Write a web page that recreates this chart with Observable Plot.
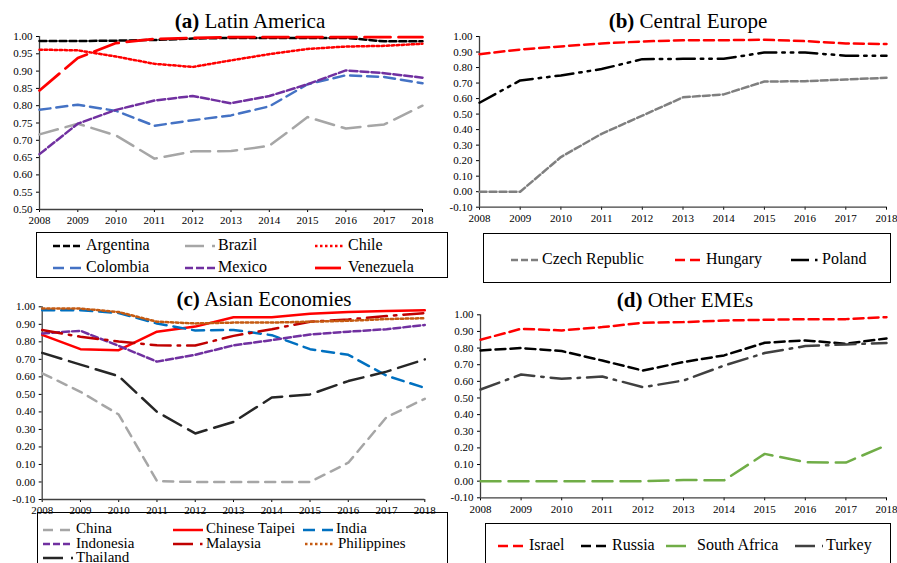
<!DOCTYPE html>
<html><head><meta charset="utf-8">
<script src="https://cdn.jsdelivr.net/npm/d3@7"></script>
<script src="https://cdn.jsdelivr.net/npm/@observablehq/plot@0.6"></script>
<style>
body{margin:0;background:#fff;}
#root{position:relative;width:897px;height:563px;overflow:hidden;font-family:'Liberation Serif','Times New Roman',Times,'Nimbus Roman','DejaVu Serif',serif;color:#000;}
#root svg text{font-family:'Liberation Serif','Times New Roman',Times,'Nimbus Roman','DejaVu Serif',serif;}
.plotbox{position:absolute;}
.title{position:absolute;font-size:21px;line-height:1;white-space:nowrap;transform:translateX(-50%);}
.legend{position:absolute;border:1px solid #000;box-sizing:border-box;}
.ltext{position:absolute;white-space:nowrap;}
.sw{position:absolute;overflow:visible;}
</style></head><body><div id="root"></div>
<script>
// ---------- data ----------
const years = [2008, 2009, 2010, 2011, 2012, 2013, 2014, 2015, 2016, 2017, 2018];

// (a) Latin America
const argentina = [0.987, 0.987, 0.988, 0.990, 0.994, 0.996, 0.996, 0.996, 0.996, 0.986, 0.986];
const brazil    = [0.717, 0.748, 0.714, 0.647, 0.668, 0.669, 0.684, 0.767, 0.734, 0.746, 0.800];
const chile     = [0.962, 0.960, 0.942, 0.921, 0.912, 0.931, 0.949, 0.964, 0.971, 0.973, 0.979];
const colombia  = [0.788, 0.803, 0.785, 0.742, 0.758, 0.772, 0.798, 0.862, 0.888, 0.883, 0.865];
const mexico    = [0.660, 0.748, 0.788, 0.815, 0.828, 0.807, 0.828, 0.862, 0.902, 0.894, 0.881];
const venezuela = [0.844, 0.938, 0.981, 0.993, 0.996, 0.998, 0.998, 0.998, 0.998, 0.998, 0.998];

// (b) Central Europe
const czech   = [0.000, 0.000, 0.223, 0.373, 0.490, 0.608, 0.627, 0.710, 0.712, 0.723, 0.734];
const hungary = [0.886, 0.916, 0.936, 0.955, 0.968, 0.976, 0.976, 0.979, 0.970, 0.955, 0.951];
const poland  = [0.573, 0.717, 0.749, 0.790, 0.854, 0.856, 0.856, 0.897, 0.897, 0.876, 0.876];

// (c) Asian Economies
const china       = [0.620, 0.515, 0.385, 0.005, 0.000, 0.000, 0.000, 0.000, 0.110, 0.370, 0.475];
const taipei      = [0.840, 0.758, 0.752, 0.858, 0.887, 0.940, 0.940, 0.960, 0.970, 0.976, 0.980];
const india       = [0.980, 0.980, 0.965, 0.905, 0.865, 0.868, 0.838, 0.758, 0.726, 0.607, 0.537];
const indonesia   = [0.848, 0.863, 0.777, 0.687, 0.726, 0.780, 0.810, 0.842, 0.858, 0.872, 0.896];
const malaysia    = [0.867, 0.829, 0.802, 0.780, 0.779, 0.834, 0.872, 0.915, 0.928, 0.947, 0.964];
const philippines = [0.990, 0.990, 0.970, 0.915, 0.905, 0.910, 0.910, 0.915, 0.920, 0.930, 0.935];
const thailand    = [0.737, 0.670, 0.604, 0.400, 0.277, 0.343, 0.482, 0.500, 0.576, 0.630, 0.700];

// (d) Other EMEs
const israel      = [0.850, 0.916, 0.906, 0.926, 0.952, 0.956, 0.966, 0.970, 0.974, 0.974, 0.986];
const russia      = [0.786, 0.800, 0.782, 0.725, 0.665, 0.716, 0.756, 0.832, 0.846, 0.826, 0.858];
const southAfrica = [0.000, 0.000, 0.000, 0.000, 0.000, 0.007, 0.005, 0.164, 0.114, 0.112, 0.216];
const turkey      = [0.551, 0.641, 0.615, 0.629, 0.565, 0.605, 0.695, 0.770, 0.812, 0.822, 0.830];

// tick labels
const yTicksA = [0.50, 0.55, 0.60, 0.65, 0.70, 0.75, 0.80, 0.85, 0.90, 0.95, 1.00];
const yTicksB = [-0.10, 0.00, 0.10, 0.20, 0.30, 0.40, 0.50, 0.60, 0.70, 0.80, 0.90, 1.00];

// titles
const titles = [["(a)", "Latin America"], ["(b)", "Central Europe"], ["(c)", "Asian Economies"], ["(d)", "Other EMEs"]];

// ---------- styles ----------
const FONT = "'Liberation Serif','Times New Roman',Times,'Nimbus Roman','DejaVu Serif',serif";
const S = {
  Argentina:      {c: "#000000", w: 2.5, d: "7,3"},
  Brazil:         {c: "#a6a6a6", w: 2.5, d: "19,8"},
  Chile:          {c: "#ff0000", w: 2.5, d: "2.5,2.5"},
  Colombia:       {c: "#4472c4", w: 2.5, d: "11,6"},
  Mexico:         {c: "#7030a0", w: 2.5, d: "8,3"},
  Venezuela:      {c: "#ff0000", w: 2.75, d: "26,8"},
  "Czech Republic": {c: "#7f7f7f", w: 2.5, d: "7,3"},
  Hungary:        {c: "#ff0000", w: 2.5, d: "10,5"},
  Poland:         {c: "#000000", w: 2.5, d: "18,6,2.5,6,2.5,6"},
  China:          {c: "#a6a6a6", w: 2.5, d: "10,7"},
  "Chinese Taipei": {c: "#ff0000", w: 2.5, d: null},
  India:          {c: "#0070c0", w: 2.5, d: "12,7"},
  Indonesia:      {c: "#7030a0", w: 2.5, d: "7,3"},
  Malaysia:       {c: "#c00000", w: 2.5, d: "20,7,2.5,7"},
  Philippines:    {c: "#c55a11", w: 2.5, d: "2.5,2.5"},
  Thailand:       {c: "#262626", w: 2.5, d: "20,8"},
  Israel:         {c: "#ff0000", w: 2.5, d: "10,5"},
  Russia:         {c: "#000000", w: 2.5, d: "10,5"},
  "South Africa": {c: "#70ad47", w: 2.5, d: "20,8"},
  Turkey:         {c: "#404040", w: 2.5, d: "20,7,2.5,7"}
};

const panels = [
  {left: 0, top: 0, width: 448, height: 232, mt: 36, mr: 26, mb: 23, ml: 39, domain: [0.5, 1.0], ticks: yTicksA,
   series: [["Argentina", argentina], ["Brazil", brazil], ["Chile", chile], ["Colombia", colombia], ["Mexico", mexico], ["Venezuela", venezuela]],
   title: {cx: 250, base: 29},
   box: {l: 36, t: 232, w: 412, h: 46}, font: 16,
   items: [[53, 245, "Argentina"], [185, 245, "Brazil"], [315, 245, "Chile"], [53, 267, "Colombia"], [185, 267, "Mexico"], [315, 267, "Venezuela"]], sw: 30, tx: 33},
  {left: 448, top: 0, width: 449, height: 232, mt: 36, mr: 11, mb: 25.3, ml: 31, domain: [-0.1, 1.0], ticks: yTicksB,
   series: [["Czech Republic", czech], ["Hungary", hungary], ["Poland", poland]],
   title: {cx: 688, base: 29},
   box: {l: 483, t: 233, w: 408, h: 50}, font: 16,
   items: [[511, 258.5, "Czech Republic"], [675, 258.5, "Hungary"], [791, 258.5, "Poland"]], sw: 28, tx: 31},
  {left: 0, top: 282, width: 448, height: 232, mt: 24.3, mr: 23.7, mb: 15, ml: 41.7, domain: [-0.1, 1.0], ticks: yTicksB,
   series: [["China", china], ["Chinese Taipei", taipei], ["India", india], ["Indonesia", indonesia], ["Malaysia", malaysia], ["Philippines", philippines], ["Thailand", thailand]],
   title: {cx: 264, base: 307},
   box: {l: 37, t: 512, w: 411, h: 60}, font: 15,
   items: [[43, 528.5, "China"], [173, 528.5, "Chinese Taipei"], [303, 528.5, "India"], [43, 543.3, "Indonesia"], [173, 543.3, "Malaysia"], [305, 543.3, "Philippines"], [43, 557, "Thailand"]], sw: 30, tx: 33},
  {left: 448, top: 282, width: 449, height: 240, mt: 32.3, mr: 11, mb: 24.7, ml: 32, domain: [-0.1, 1.0], ticks: yTicksB,
   series: [["Israel", israel], ["Russia", russia], ["South Africa", southAfrica], ["Turkey", turkey]],
   title: {cx: 685, base: 308},
   box: {l: 485, t: 523, w: 406, h: 50}, font: 16,
   items: [[498, 544.5, "Israel"], [581, 544.5, "Russia"], [666, 544.5, "South Africa"], [795, 544.5, "Turkey"]], sw: 28, tx: 31}
];

const root = document.getElementById("root");

panels.forEach((p, pi) => {
  const marks = [
    Plot.ruleX([2008], {stroke: "#404040", strokeWidth: 1.3}),
    Plot.ruleY([p.domain[0]], {stroke: "#404040", strokeWidth: 1.3})
  ];
  p.series.forEach(([name, vals]) => {
    const st = S[name];
    const data = years.map((y, i) => ({year: y, value: vals[i]}));
    const opts = {x: "year", y: "value", stroke: st.c, strokeWidth: st.w, strokeLinejoin: "round"};
    if (st.d) opts.strokeDasharray = st.d;
    marks.push(Plot.line(data, opts));
  });
  const chart = Plot.plot({
    width: p.width, height: p.height,
    marginTop: p.mt, marginRight: p.mr, marginBottom: p.mb, marginLeft: p.ml,
    style: {fontFamily: FONT, fontSize: "11px", color: "#000", background: "transparent", overflow: "visible"},
    x: {domain: [2008, 2018], ticks: years, tickFormat: d => String(d), tickSize: 3, tickPadding: 4, label: null},
    y: {domain: p.domain, ticks: p.ticks, tickFormat: d => d.toFixed(2), tickSize: 3, tickPadding: 4, label: null},
    marks
  });
  const wrap = document.createElement("div");
  wrap.className = "plotbox";
  wrap.style.left = p.left + "px";
  wrap.style.top = p.top + "px";
  wrap.appendChild(chart);
  root.appendChild(wrap);

  // title
  const t = document.createElement("div");
  t.className = "title";
  t.style.left = p.title.cx + "px";
  t.style.top = (p.title.base - 0.8375 * 21) + "px";
  t.innerHTML = "<b>" + titles[pi][0] + "</b> " + titles[pi][1];
  root.appendChild(t);

  // legend box
  const box = document.createElement("div");
  box.className = "legend";
  Object.assign(box.style, {left: p.box.l + "px", top: p.box.t + "px", width: p.box.w + "px", height: p.box.h + "px"});
  root.appendChild(box);

  p.items.forEach(([x, cy, name]) => {
    const st = S[name];
    const ns = "http://www.w3.org/2000/svg";
    const svg = document.createElementNS(ns, "svg");
    svg.setAttribute("class", "sw");
    svg.setAttribute("width", p.sw);
    svg.setAttribute("height", 10);
    svg.style.left = x + "px";
    svg.style.top = (cy + 1 - 5) + "px";
    const ln = document.createElementNS(ns, "line");
    ln.setAttribute("x1", 0); ln.setAttribute("x2", p.sw);
    ln.setAttribute("y1", 5); ln.setAttribute("y2", 5);
    ln.setAttribute("stroke", st.c);
    ln.setAttribute("stroke-width", st.w);
    if (st.d) ln.setAttribute("stroke-dasharray", st.d);
    svg.appendChild(ln);
    root.appendChild(svg);
    const tx = document.createElement("div");
    tx.className = "ltext";
    tx.textContent = name;
    const fs = p.font;
    const L = Math.round(fs * 0.8);
    const capCenter = (L - 1.107 * fs) / 2 + 0.891 * fs - 0.331 * fs;
    Object.assign(tx.style, {left: (x + p.tx) + "px", top: (cy - capCenter) + "px", fontSize: fs + "px", lineHeight: L + "px"});
    root.appendChild(tx);
  });
});
</script></body></html>
